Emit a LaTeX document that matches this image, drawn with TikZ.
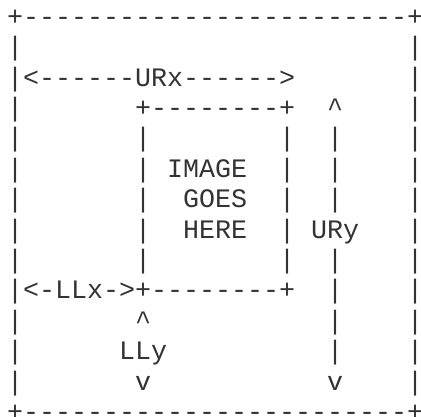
\documentclass[tikz,border=0pt]{standalone}
\usepackage{fontspec}
\setmonofont{Liberation Mono}

\begin{document}
\begin{tikzpicture}[x=16pt, y=-30.4pt,
  every node/.style = {font=\ttfamily\fontsize{26.67pt}{30.4pt}\selectfont,
    inner sep=0pt, anchor=base west, text=black!80}]
  \useasboundingbox (-0.4375,-0.829) rectangle (25.875,12.888);
  % outer frame
  \node (top) at (0,0) {+------------------------+};
  \node (bottom) at (0,13) {+------------------------+};
  \foreach \r in {1,...,12} {
    \node (left\r) at (0,\r) {|};
    \node (right\r) at (25,\r) {|};
  }
  % URx
  \node (urx) at (1,2) {<------URx------>};
  % image box
  \node (boxtop) at (8,3) {+--------+};
  \foreach \r in {4,...,8} {
    \node (boxl\r) at (8,\r) {|};
    \node (boxr\r) at (17,\r) {|};
  }
  \node (image) at (10,5) {IMAGE};
  \node (goes) at (11,6) {GOES};
  \node (here) at (11,7) {HERE};
  % LLx
  \node (llx) at (1,9) {<-LLx->+--------+};
  % LLy
  \node (llyup) at (8,10) {\textasciicircum};
  \node (lly) at (7,11) {LLy};
  \node (llydown) at (8,12) {v};
  % URy
  \node (uryup) at (20,3) {\textasciicircum};
  \foreach \r in {4,5,6,8,9,10,11}
    \node (urybar\r) at (20,\r) {|};
  \node (ury) at (19,7) {URy};
  \node (urydown) at (20,12) {v};
\end{tikzpicture}
\end{document}
